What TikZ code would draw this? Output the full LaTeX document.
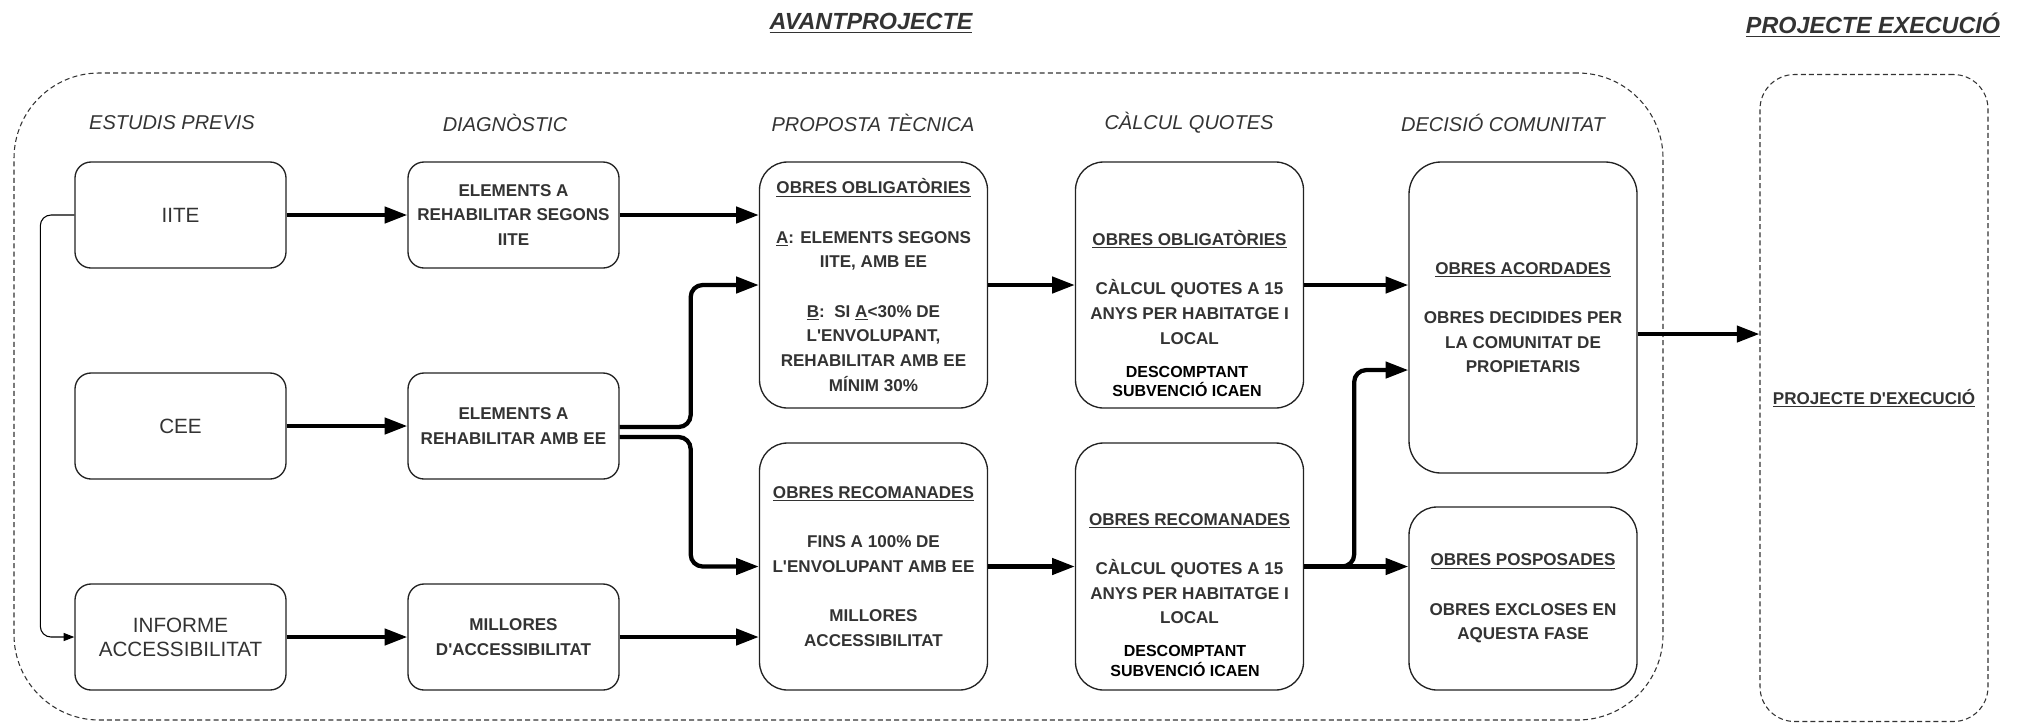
\documentclass[tikz,border=0pt]{standalone}
\usepackage{fontspec}
\setmainfont{Liberation Sans}[Ligatures=TeXOff]
\usetikzlibrary{arrows.meta}
\definecolor{txt}{HTML}{333333}
\definecolor{brd}{HTML}{222222}
\begin{document}
\begin{tikzpicture}[x=0.75pt,y=-0.75pt,
  box/.style={draw=brd, line width=1pt, rounded corners=12pt, inner sep=0pt, align=center, text=txt,
    font=\bfseries\fontsize{12.8}{18.5}\selectfont},
  smallbox/.style={box, minimum width=158.25pt, minimum height=79.5pt},
  bigtxt/.style={font=\mdseries\fontsize{15.5}{18}\selectfont},
  lbl/.style={align=center, text=txt, font=\bfseries\fontsize{12.8}{18.5}\selectfont, inner sep=0pt},
  bk/.style={align=center, text=black, font=\bfseries\fontsize{12}{14.3}\selectfont, inner sep=0pt},
  hdr/.style={font=\itshape\fontsize{15}{18}\selectfont, text=txt, inner sep=0pt},
  ttl/.style={font=\bfseries\itshape\fontsize{17.5}{20}\selectfont, text=txt, inner sep=0pt},
  flow/.style={draw=black, line width=3.2pt, -{Triangle[length=17pt,width=12pt]}, rounded corners=9pt},
  thin/.style={draw=black, line width=0.8pt, -{Triangle[length=8pt,width=6pt]}, rounded corners=8pt},
  dashbox/.style={draw=txt, line width=0.8pt, dash pattern=on 3.75pt off 2.4pt, inner sep=0pt}
]
\useasboundingbox (0,0) rectangle (2029,722);

% titles
\node[ttl] (tavant) at (871,23) {\underline{AVANTPROJECTE}};
\node[ttl] (texec) at (1873,25) {\underline{PROJECTE EXECUCIÓ}};

% dashed containers
\node[dashbox, rounded corners=64pt, minimum width=1236.75pt, minimum height=485.25pt] (avant) at (838.5,396.5) {};
\node[dashbox, rounded corners=26pt, minimum width=171pt, minimum height=485.25pt,
      align=center, text=txt, font=\bfseries\fontsize{12.8}{18.5}\selectfont] (exec) at (1874,398) {\underline{PROJECTE D'EXECUCIÓ}};

% column headers
\node[hdr] (h1) at (172,123) {ESTUDIS PREVIS};
\node[hdr] (h2) at (505,123) {DIAGNÒSTIC};
\node[hdr] (h3) at (873,123) {PROPOSTA TÈCNICA};
\node[hdr] (h4) at (1189,123) {CÀLCUL QUOTES};
\node[hdr] (h5) at (1503,123) {DECISIÓ COMUNITAT};

% column 1
\node[smallbox, bigtxt] (iite) at (180.5,215) {IITE};
\node[smallbox, bigtxt] (cee) at (180.5,426) {CEE};
\node[smallbox, bigtxt] (inf) at (180.5,637) {INFORME\\ACCESSIBILITAT};

% column 2
\node[smallbox] (d1) at (513.5,215) {ELEMENTS A\\REHABILITAR SEGONS\\IITE};
\node[smallbox] (d2) at (513.5,426) {ELEMENTS A\\REHABILITAR AMB EE};
\node[smallbox] (d3) at (513.5,637) {MILLORES\\D'ACCESSIBILITAT};

% column 3
\node[box, rounded corners=21pt, minimum width=171pt, minimum height=184.5pt] (pt1) at (873.5,285)
  {\underline{OBRES OBLIGATÒRIES}\\[18.5pt]\underline{A}: ELEMENTS SEGONS\\IITE, AMB EE\\[18.5pt]\underline{B}:\ \ SI \underline{A}<30\% DE\\L'ENVOLUPANT,\\REHABILITAR AMB EE\\MÍNIM 30\%};
\node[box, rounded corners=21pt, minimum width=171pt, minimum height=185.25pt] (pt2) at (873.5,566.5)
  {\underline{OBRES RECOMANADES}\\[18.5pt]FINS A 100\% DE\\L'ENVOLUPANT AMB EE\\[18.5pt]MILLORES\\ACCESSIBILITAT};

% column 4
\node[box, rounded corners=21pt, minimum width=171pt, minimum height=184.5pt] (cq1) at (1189.5,285) {};
\node[lbl] (cq1a) at (1189.5,287.5) {\underline{OBRES OBLIGATÒRIES}\\[18.5pt]CÀLCUL QUOTES A 15\\ANYS PER HABITATGE I\\LOCAL};
\node[bk] (cq1b) at (1187,381.5) {DESCOMPTANT\\SUBVENCIÓ ICAEN};
\node[box, rounded corners=21pt, minimum width=171pt, minimum height=185.25pt] (cq2) at (1189.5,566.5) {};
\node[lbl] (cq2a) at (1189.5,568.5) {\underline{OBRES RECOMANADES}\\[18.5pt]CÀLCUL QUOTES A 15\\ANYS PER HABITATGE I\\LOCAL};
\node[bk] (cq2b) at (1185,661) {DESCOMPTANT\\SUBVENCIÓ ICAEN};

% column 5
\node[box, rounded corners=24pt, minimum width=171pt, minimum height=233.25pt] (dc1) at (1523,317.5)
  {\underline{OBRES ACORDADES}\\[18.5pt]OBRES DECIDIDES PER\\LA COMUNITAT DE\\PROPIETARIS};
\node[box, rounded corners=21pt, minimum width=171pt, minimum height=137.25pt] (dc2) at (1523,598.5)
  {\underline{OBRES POSPOSADES}\\[18.5pt]OBRES EXCLOSES EN\\AQUESTA FASE};

% connectors
\draw[thin] (iite.west) -- ++(-34,0) |- (inf.west);
\draw[flow] (iite.east) -- (d1.west);
\draw[flow] (cee.east) -- (d2.west);
\draw[flow] (inf.east) -- (d3.west);
\draw[flow] (d1.east) -- (d1.east -| pt1.west);
\draw[flow] ([yshift=-0.75pt]d2.east) -- ++(71,0) |- (pt1.west);
\draw[flow] ([yshift=-8.25pt]d2.east) -- ++(71,0) |- (pt2.west);
\draw[flow] (d3.east) -- (d3.east -| pt2.west);
\draw[flow] (pt1.east) -- (cq1.west);
\draw[flow] (pt2.east) -- (cq2.west);
\draw[flow] (cq1.east) -- (cq1.east -| dc1.west);
\draw[flow] (cq2.east) -- (cq2.east -| dc2.west);
\draw[flow] (cq2.east) -- ++(50,0) |- ([yshift=-39.4pt]dc1.west);
\draw[flow] ([yshift=-12.4pt]dc1.east) -- ([yshift=-12.4pt]dc1.east -| exec.west);
\end{tikzpicture}
\end{document}
